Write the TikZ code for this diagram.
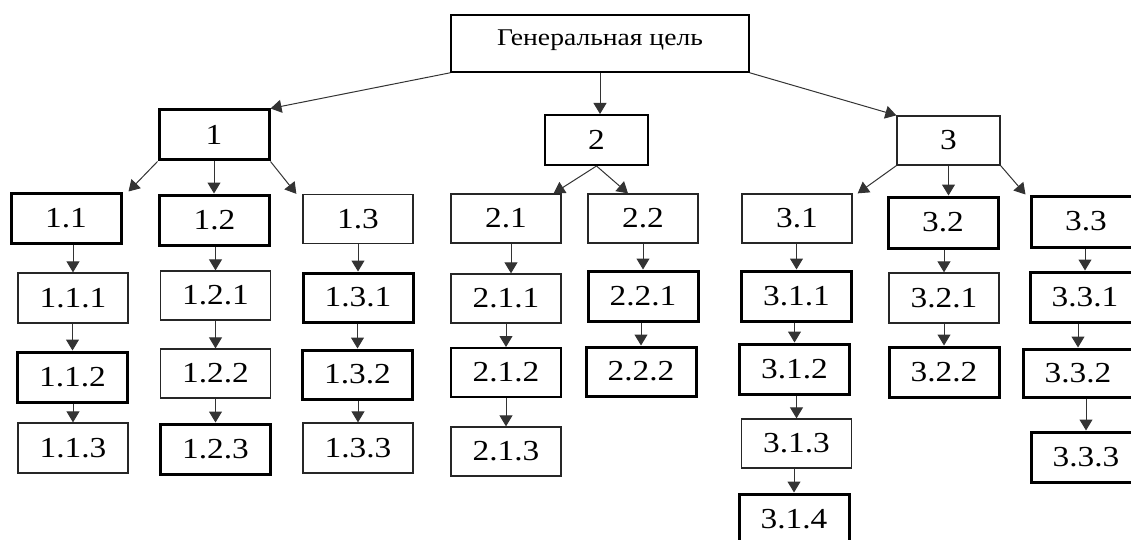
\documentclass[tikz,border=0pt]{standalone}
\usepackage{fontspec}
\setmainfont{Liberation Serif}
\newfontfamily\widefont[FakeStretch=1.15]{Liberation Serif}
\usetikzlibrary{arrows.meta}
\begin{document}
\begin{tikzpicture}[x=1pt,y=-1pt,
  box/.style={draw=black!85, line width=1.3pt, minimum width=110pt, minimum height=49pt,
    inner sep=0pt, font=\widefont\fontsize{29}{32}\selectfont},
  heavy/.style={box, draw=black, line width=3pt},
  medium/.style={box, draw=black, line width=2pt},
  link/.style={draw=black!80, line width=1pt, -{Triangle[width=13pt,length=11pt]}}]
\useasboundingbox (0,0) rectangle (1131,540);
\clip (0,0) rectangle (1131,540);

% top level
\node[box, line width=1.6pt, draw=black, minimum width=298pt, minimum height=57pt,
  text depth=12pt, font=\widefont\fontsize{24}{28}\selectfont] (root) at (600,43.5) {Генеральная цель};

% second level
\node[heavy, minimum height=50pt] (n1) at (214,135) {1};
\node[medium, minimum width=103pt, minimum height=50pt] (n2) at (596.5,140) {2};
\node[box, minimum width=103pt] (n3) at (948.5,140.5) {3};

% third level
\node[heavy, minimum height=50pt] (n11) at (66,218) {1.1};
\node[heavy, minimum height=50pt] (n12) at (214.5,220) {1.2};
\node[box] (n13) at (358,219) {1.3};
\node[box] (n21) at (506,218.5) {2.1};
\node[box] (n22) at (643,218.5) {2.2};
\node[box] (n31) at (797,218.5) {3.1};
\node[heavy, minimum height=51pt] (n32) at (943,222.5) {3.2};
\node[heavy, minimum height=51pt] (n33) at (1086,221.5) {3.3};

% fourth level and below
\node[box, minimum height=50pt] (n111) at (73,298) {1.1.1};
\node[heavy, minimum height=50pt] (n112) at (72.5,377) {1.1.2};
\node[box, minimum height=50pt] (n113) at (73,448) {1.1.3};

\node[box] (n121) at (215.5,295.5) {1.2.1};
\node[box] (n122) at (215.5,373.5) {1.2.2};
\node[heavy, minimum height=50pt] (n123) at (215.5,449) {1.2.3};

\node[heavy] (n131) at (358,297.5) {1.3.1};
\node[heavy] (n132) at (357.5,374.5) {1.3.2};
\node[box, minimum height=50pt] (n133) at (358,448) {1.3.3};

\node[box] (n211) at (506,298.5) {2.1.1};
\node[medium] (n212) at (506,372.5) {2.1.2};
\node[box] (n213) at (506,451.5) {2.1.3};

\node[heavy, minimum height=50pt] (n221) at (643,296) {2.2.1};
\node[heavy] (n222) at (641,371.5) {2.2.2};

\node[heavy, minimum height=50pt] (n311) at (796.5,296) {3.1.1};
\node[heavy, minimum height=50pt] (n312) at (794.5,369) {3.1.2};
\node[box] (n313) at (796.5,443.5) {3.1.3};
\node[heavy, minimum height=50pt] (n314) at (794,519) {3.1.4};

\node[box, minimum height=50pt] (n321) at (944,298) {3.2.1};
\node[heavy, minimum height=50pt] (n322) at (944,372) {3.2.2};

\node[heavy, minimum height=50pt] (n331) at (1085,297) {3.3.1};
\node[heavy, minimum height=48pt] (n332) at (1078,373) {3.3.2};
\node[heavy, minimum height=50pt] (n333) at (1086,457) {3.3.3};

% connectors from the general goal
\draw[link] (root.south west) -- (n1.north east);
\draw[link] (root.south) -- (root.south |- n2.north);
\draw[link] (root.south east) -- (n3.north west);

% connectors to the subgoals
\draw[link] (n1.south west) -- ([xshift=6pt]n11.north east);
\draw[link] (n1.south) -- (n1.south |- n12.north);
\draw[link] (n1.south east) -- ([xshift=-6pt]n13.north west);
\draw[link] (n2.south) -- ([xshift=-8pt]n21.north east);
\draw[link] (n2.south) -- ([xshift=-15pt]n22.north);
\draw[link] (n3.south west) -- ([xshift=5pt]n31.north east);
\draw[link] (n3.south) -- (n3.south |- n32.north);
\draw[link] (n3.south east) -- ([xshift=-4pt]n33.north west);

% vertical chains
\foreach \a/\b in {n11/n111, n111/n112, n112/n113,
                   n12/n121, n121/n122, n122/n123,
                   n13/n131, n131/n132, n132/n133,
                   n211/n212, n212/n213,
                   n221/n222,
                   n31/n311, n311/n312, n312/n313, n313/n314,
                   n32/n321, n321/n322,
                   n33/n331, n331/n332, n332/n333}
  \draw[link] (\b.north |- \a.south) -- (\b.north);
\draw[link] ([xshift=5pt]n21.south) -- ([xshift=5pt]n211.north);
\draw[link] (n22.south) -- (n22.south |- n221.north);
\end{tikzpicture}
\end{document}
